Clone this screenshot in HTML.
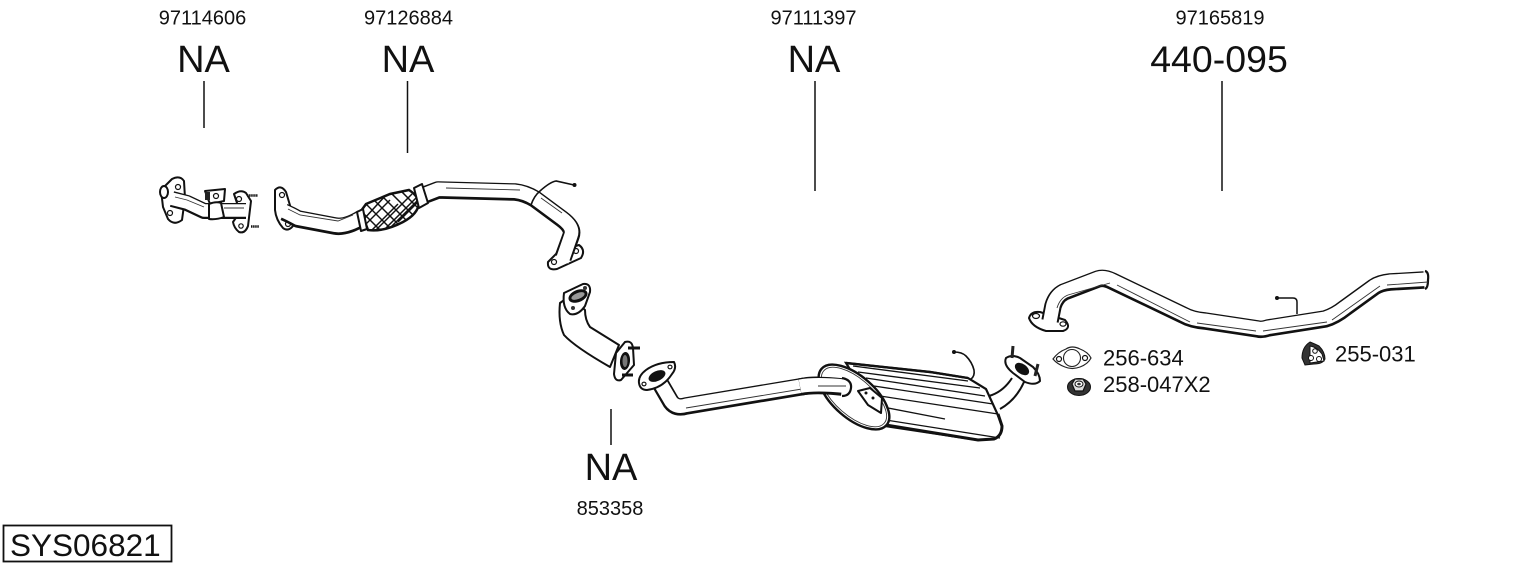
<!DOCTYPE html>
<html><head><meta charset="utf-8"><style>
html,body{margin:0;padding:0;background:#fff;width:1530px;height:566px;overflow:hidden}
svg{display:block}
text{font-family:"Liberation Sans",sans-serif;fill:#111}
.o{fill:none;stroke:#111;stroke-linejoin:round}
.w{fill:none;stroke:#fff;stroke-linejoin:round}
.h{fill:none;stroke:#333;stroke-width:.9}
.f{fill:#fff;stroke:#111;stroke-width:2;stroke-linejoin:round}
.k{fill:#222}
.t{fill:none;stroke:#111;stroke-width:1.2}
</style></head><body>
<svg width="1530" height="566" viewBox="0 0 1530 566" xmlns="http://www.w3.org/2000/svg">
<!-- labels -->
<g text-anchor="middle">
<text x="202.500" y="24.500" font-size="20">97114606</text>
<text x="408.500" y="24.500" font-size="20">97126884</text>
<text x="813.500" y="24.500" font-size="20">97111397</text>
<text x="1220" y="24.500" font-size="20">97165819</text>
<text x="203.500" y="72" font-size="38">NA</text>
<text x="408" y="72" font-size="38">NA</text>
<text x="814" y="72" font-size="38">NA</text>
<text x="1219" y="72" font-size="37.500">440-095</text>
<text x="611" y="480" font-size="38">NA</text>
<text x="610" y="515" font-size="20">853358</text>
</g>
<text x="1103" y="365.500" font-size="22">256-634</text>
<text x="1103" y="392" font-size="22">258-047X2</text>
<text x="1335" y="361.500" font-size="22">255-031</text>
<g stroke="#111" stroke-width="1.500">
<line x1="204" y1="81" x2="204" y2="128"/>
<line x1="407.500" y1="81" x2="407.500" y2="153"/>
<line x1="815" y1="81" x2="815" y2="191"/>
<line x1="1222" y1="81" x2="1222" y2="191"/>
<line x1="611" y1="409" x2="611" y2="445"/>
</g>
<rect x="3.500" y="525.500" width="168" height="36" fill="#fff" stroke="#111" stroke-width="1.800"/>
<text x="10" y="556" font-size="31.500">SYS06821</text>

<!-- part 1 -->
<path class="f" d="M161 190 L172 179 Q180 175 184 181 L185 198 L182 220 Q174 226 168 219 L163 207Z" stroke-width="2.400"/>
<circle cx="178" cy="187" r="2.500" class="t"/><circle cx="170" cy="213" r="2.500" class="t"/>
<ellipse cx="164" cy="192" rx="4" ry="6" class="f"/>
<path class="f" d="M234 194 Q241 189 246 193 L251 201 L248 226 Q245 234 239 232 Q234 228 233 222 L240 212Z" stroke-width="2.200"/>
<circle cx="239" cy="199" r="2.500" class="t"/><circle cx="241" cy="226" r="2.200" class="t"/>
<path stroke="#111" stroke-width="2.400" stroke-dasharray="1.500 .6" d="M247 195.500 H258 M251 226.500 H259" fill="none"/>
<path d="M172 199 L187 203 L204 211 L246 211" class="o" stroke-width="16"/>
<path d="M169 198 L187 202.500 L204 210.500 L247 210.500" class="w" stroke-width="12.500"/>
<path class="h" d="M175 197 L187 200 L204 207"/>
<path class="h" d="M224 208 H244"/>
<path class="f" d="M205 191 L225 189 L224 201 L210 204Z"/>
<circle cx="216" cy="196" r="2.500" class="t"/>
<path class="k" d="M205 192 h5 v8 h-5z"/>
<path class="f" d="M209 204 Q216 201 221 203 L224 217 Q216 220 209 219 Z" stroke-width="2.200"/>

<!-- part 2 pipe -->
<path class="f" d="M275 190 Q281 184 286 192 L292 212 L293 226 Q288 232 283 228 Q276 220 275 210Z" stroke-width="2.400"/>
<circle cx="282" cy="195" r="2.500" class="t"/><circle cx="288" cy="224" r="2.500" class="t"/>
<path class="o" stroke-width="17.500" d="M284 212 Q291 215 298 219 L335 226 Q346 228 362 218"/>
<path class="w" stroke-width="13.500" transform="translate(0 -.7)" d="M282 211 Q291 215 298 219 L335 226 Q346 228 364 217"/>
<path class="h" d="M288 209 L300 215 L338 221 L353 215"/>
<path class="f" d="M548 262 L559 251 L579 245 Q586 250 581 258 L557 269 Q547 271 548 262Z" stroke-width="2.200"/>
<circle cx="554" cy="262" r="2.500" class="t"/><circle cx="576" cy="251" r="2.500" class="t"/>
<path class="o" stroke-width="17.500" d="M422 196 L438 190 L515 192 Q525 193 535 199 L562 219 Q574 228 571 236 L563 258"/>
<path class="w" stroke-width="13.500" transform="translate(0 -.7)" d="M420 197 L438 190 L515 192 Q525 193 535 199 L562 219 Q574 228 571 236 L562 262"/>
<path class="h" d="M446 188 L520 190 M541 198 L562 213"/>
<!-- flex -->
<path d="M361 211 L366 204 L390 194 L409 190 Q418 196 419 203 Q418 214 403 222 Q384 232 368 230 Z" fill="#fff" stroke="#111" stroke-width="2.500"/>
<clipPath id="fx"><path d="M361 211 L366 204 L390 194 L409 190 Q418 196 419 203 Q418 214 403 222 Q384 232 368 230 Z"/></clipPath>
<g clip-path="url(#fx)" stroke="#111" stroke-width="1.500">
<path fill="none" d="M350 200 L390 240 M358 196 L398 236 M366 192 L406 232 M374 188 L414 228 M382 184 L422 224 M390 180 L430 220 M398 176 L438 216 M406 172 L446 212"/>
<path fill="none" d="M350 240 L390 200 M358 244 L398 204 M366 240 L412 194 M374 240 L420 194 M382 236 L428 190 M390 228 L430 188 M398 222 L438 182 M345 226 L385 186 M352 232 L398 182"/>
</g>
<path class="f" d="M357 212 L363 209 L367 229 L361 231Z"/>
<path class="f" d="M414 188 L422 184 L428 203 L419 208Z"/>
<!-- sensor 1 -->
<path fill="none" stroke="#111" stroke-width="1.600" d="M531 205 Q534 196 540 191 Q550 182 556 181 Q565 183 574 185"/>
<circle cx="574.500" cy="185" r="2" fill="#111"/>

<!-- elbow part -->
<path class="f" d="M560 303 Q558 322 564 335 Q575 347 610 367 L619 345 L590 327 Q585 320 585 310 L570 296Z" stroke-width="2.600"/>
<path class="f" d="M564 293 L583 284 Q591 283 590 292 L585 306 Q578 316 570 314 Q562 308 564 293Z" stroke-width="2.800"/>
<ellipse cx="578" cy="296" rx="10" ry="6" transform="rotate(-22 578 296)" fill="#111"/>
<ellipse cx="578" cy="296" rx="7" ry="3" transform="rotate(-22 578 296)" fill="#999"/>
<circle cx="573" cy="308" r="2" fill="#333"/><circle cx="585" cy="288" r="2" fill="#333"/>
<path class="f" d="M616 353 L625 342 Q632 340 633 348 L634 365 L621 380 Q615 382 614 374Z" stroke-width="2.800"/>
<ellipse cx="625" cy="361" rx="5" ry="9" transform="rotate(5 625 361)" fill="#111"/>
<ellipse cx="625" cy="361" rx="2.500" ry="6" fill="#777"/>
<path stroke="#111" stroke-width="3" d="M628 348 H640 M622 375 H633" fill="none"/>

<!-- pipe 3 -->
<path class="o" stroke-width="17.500" d="M660 383 L671 402 Q676 409 686 406 L806 386 Q815 384 845 387"/>
<path class="w" stroke-width="13.500" transform="translate(0 -.7)" d="M658 380 L671 402 Q676 409 686 406 L806 386 Q815 384 846.500 387"/>
<path class="h" d="M686 408 L808 388 L822 386"/>
<path class="f" d="M639 383 Q638 376 646 370 Q657 362 674 362 Q677 368 672 374 Q663 388 647 390 Q640 390 639 383Z" stroke-width="2.600"/>
<ellipse cx="657" cy="376" rx="9" ry="5" transform="rotate(-25 657 376)" fill="#111"/>
<ellipse cx="644" cy="384" rx="2" ry="1.800" class="t"/><ellipse cx="670" cy="367" rx="2" ry="1.800" class="t"/>

<!-- muffler -->
<path d="M989 398 Q1003 392 1012 378 L1024 382 Q1016 398 1000 409Z" fill="#fff" stroke="none"/>
<path class="o" style="stroke-width:2" d="M989 396 Q1003 392 1012 378 M1000 409 Q1016 400 1024 382"/>
<path d="M846 363 L930 372 L968 378 L986 389 L997 413 L1002 426 Q1002 436 994 439 L978 440 L885 426 Z" fill="#fff" stroke="#111" stroke-width="2.200"/>
<g fill="none" stroke="#111" stroke-width="1.300">
<path d="M853 366 L968 381"/><path d="M858 372 L980 388"/><path d="M866 378 L985 396"/><path d="M874 386 L993 404"/><path d="M880 396 L998 414"/><path d="M888 408 L945 419"/><path d="M886 420 L1000 438"/>
</g>
<path d="M846 363 L930 372 L968 378" fill="none" stroke="#111" stroke-width="2.400"/>
<path d="M886 425 L978 440 L994 439 Q1002 436 1002 426 L998 414" fill="none" stroke="#111" stroke-width="3"/>
<ellipse cx="854" cy="397" rx="43" ry="21" transform="rotate(41 854 397)" fill="#fff" stroke="#111" stroke-width="2.400"/>
<ellipse cx="854" cy="397" rx="40" ry="18.500" transform="rotate(41 854 397)" fill="none" stroke="#333" stroke-width=".9"/>
<path class="o" stroke-width="17.500" d="M800 387 Q815 384 842 387"/>
<path class="w" stroke-width="13.500" transform="translate(0 -.7)" d="M800 387 Q815 384 846 387"/>
<path d="M842 378 Q852 380 851 388 Q850 396 842 396" class="o" stroke-width="2.200"/>
<path class="h" d="M818 386 H846"/>
<path class="f" d="M858 391 L870 388 L882 398 L881 413 L868 405 Z" stroke-width="1.700"/>
<circle cx="866" cy="393" r="1.500" fill="#111"/><circle cx="873" cy="398" r="1.500" fill="#111"/>
<path fill="none" stroke="#111" stroke-width="1.600" d="M954 352 Q962 352 966 356 Q972 362 974 370 Q975 376 971 379"/>
<circle cx="954" cy="352" r="2" fill="#111"/>
<!-- outlet flange -->
<path class="f" d="M1006 358 Q1012 354 1020 358 L1033 367 Q1040 374 1040 381 Q1035 386 1025 382 L1013 373 Q1003 365 1006 358Z" stroke-width="2.600"/>
<ellipse cx="1022" cy="369" rx="8" ry="5" transform="rotate(36 1022 369)" fill="#111"/>
<path stroke="#222" stroke-width="3" d="M1013 346 L1012 358 M1038 364 L1035 376" fill="none"/>

<!-- pipe 4 -->
<path class="f" d="M1029 318 Q1031 311 1040 312 L1065 320 Q1072 328 1063 331 L1046 331 Q1032 327 1029 318Z" stroke-width="2.600"/>
<ellipse cx="1036" cy="316" rx="3.500" ry="2.500" class="t"/><ellipse cx="1063" cy="324" rx="3" ry="2.200" class="t"/>
<path class="o" stroke-width="17.500" d="M1050 321 L1053 306 Q1056 296 1064 292 L1098 279 Q1104 277 1112 281 L1183 315 Q1192 320 1205 321 L1258 329 Q1262 330 1268 328 L1325 319 Q1335 316 1345 308 L1374 287 Q1380 283 1390 282 L1424 280"/>
<path class="w" stroke-width="13.500" transform="translate(0 -.7)" d="M1049 327 L1053 306 Q1056 296 1064 292 L1098 279 Q1104 277 1112 281 L1183 315 Q1192 320 1205 321 L1258 329 Q1262 330 1268 328 L1325 319 Q1335 316 1345 308 L1374 287 Q1380 283 1390 282 L1426 280"/>
<path d="M1425 271 Q1429 272 1428 280 Q1428 288 1425 289" class="o" stroke-width="2.200"/>
<path class="h" d="M1057 308 Q1060 298 1068 295 L1110 283 M1117 285 L1190 322 M1197 323 L1256 331 M1263 331 L1327 322 M1332 320 L1380 286 M1387 285 L1428 282"/>
<path fill="none" stroke="#111" stroke-width="1.500" d="M1277 298 H1293 Q1297 298 1297 302 V314"/>
<circle cx="1277" cy="298" r="2" fill="#111"/>

<!-- gasket -->
<path d="M1053 359 Q1058 352 1066 349 Q1072 345 1080 349 Q1088 352 1091 358 Q1088 364 1080 367 Q1072 370 1065 367 Q1057 364 1053 359Z" fill="#fff" stroke="#222" stroke-width="1.200"/>
<circle cx="1072" cy="358" r="8.500" fill="#fff" stroke="#222" stroke-width="1.100"/>
<ellipse cx="1059" cy="359" rx="2.500" ry="2.500" class="t" stroke-width=".9"/><ellipse cx="1085" cy="358" rx="2.500" ry="2.500" class="t" stroke-width=".9"/>
<!-- nut -->
<ellipse cx="1079" cy="387" rx="11.500" ry="8.500" fill="#333" stroke="#111"/>
<path d="M1072 384 L1075 379 L1083 379 L1086 384 L1083 391 L1075 391Z" fill="#ddd" stroke="#111" stroke-width="1.200"/>
<ellipse cx="1079" cy="384" rx="4" ry="3" fill="#fff" stroke="#111"/>
<ellipse cx="1079" cy="384" rx="1.800" ry="1.300" fill="#333"/>
<!-- rubber hanger -->
<path d="M1302 358 Q1302 347 1310 342 Q1315 344 1319 346 Q1325 352 1325 359 Q1323 364 1314 364 L1305 365Z" fill="#333" stroke="#111"/>
<path d="M1310 346 Q1317 347 1322 354 L1324 361 L1310 363 Z" fill="#fff" stroke="#111"/>
<circle cx="1311" cy="358" r="2.500" fill="#fff" stroke="#111"/>
<circle cx="1319" cy="359" r="2.500" fill="#fff" stroke="#111"/>
<circle cx="1315" cy="351" r="2.300" fill="#fff" stroke="#111"/>
</svg>
</body></html>
